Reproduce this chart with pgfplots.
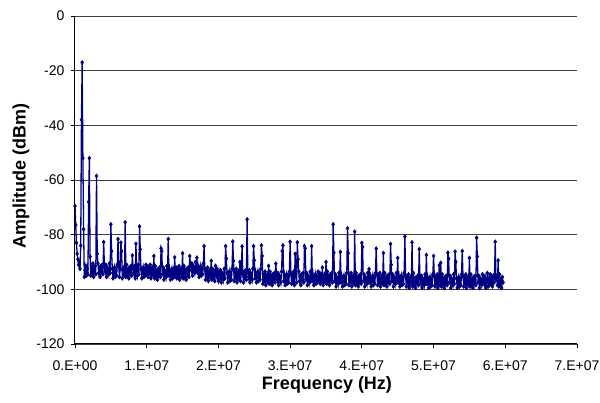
\documentclass[border=0pt]{standalone}
\usepackage{fontspec}
\setmainfont{Liberation Sans}
\usepackage{pgfplots}
\pgfplotsset{compat=1.18}
\definecolor{navyline}{RGB}{0,0,128}

\begin{document}
\begin{tikzpicture}
\begin{axis}[
  at={(0,0)}, anchor=south west,
  scale only axis,
  width=502pt, height=328pt,
  xmin=0, xmax=7e7, ymin=-120, ymax=0,
  axis x line*=bottom, axis y line*=left,
  axis line style={black, line width=1pt},
  xtick={0,1e7,2e7,3e7,4e7,5e7,6e7,7e7},
  xticklabels={0.E+00,1.E+07,2.E+07,3.E+07,4.E+07,5.E+07,6.E+07,7.E+07},
  ytick={-120,-100,-80,-60,-40,-20,0},
  yticklabels={-120,-100,-80,-60,-40,-20,0},
  scaled x ticks=false,
  /pgf/number format/assume math mode=true,
  tick align=outside, major tick length=4pt,
  tick style={black, line width=0.8pt},
  ymajorgrids, grid style={black!75, line width=0.9pt},
  ticklabel style={font=\fontsize{14}{16}\selectfont},
  xticklabel style={anchor=north, yshift=-9pt},
  yticklabel style={anchor=east, xshift=-3pt},
  xlabel={Frequency (Hz)},
  ylabel={Amplitude (dBm)},
  label style={font=\bfseries\fontsize{18}{20}\selectfont},
  xlabel style={at={(axis description cs:0.502,-0.1402)}, anchor=base},
  ylabel style={at={(axis description cs:-0.0986,0.5128)}, anchor=base},
]
\draw[black!45, line width=0.8pt] (rel axis cs:1,0) -- (rel axis cs:1,1);
% spectrum, one bin every 100 kHz
\addplot[color=navyline, line width=1.3pt, mark=diamond*, mark size=1.9pt,
  mark options={fill=navyline, line width=0.6pt}]
  table[header=false, row sep=\\, x expr=\coordindex*1e5, y index=0] {
-69.5\\ -76.5\\ -83\\ -87\\ -89\\ -91\\ -90\\ -92.5\\ -84\\ -38\\
-17\\ -52\\ -78\\ -95.5\\ -93\\ -91.5\\ -95\\ -92.5\\ -94.5\\ -68\\
-52\\ -88\\ -95\\ -92\\ -93.5\\ -90.5\\ -95.5\\ -92.5\\ -91.5\\ -94.5\\
-58.5\\ -87\\ -90.5\\ -94\\ -92.5\\ -95.5\\ -91.5\\ -93.5\\ -91\\ -94.5\\
-82.7\\ -91.5\\ -93.5\\ -91\\ -95.5\\ -92\\ -93\\ -94.5\\ -90.5\\ -94\\
-76.2\\ -86\\ -92.5\\ -96\\ -93.5\\ -92\\ -95.5\\ -93\\ -95\\ -91\\
-81.6\\ -91.5\\ -95.5\\ -92.5\\ -82.9\\ -86\\ -96\\ -93\\ -92\\ -95\\
-75.5\\ -95.5\\ -91\\ -94.5\\ -93\\ -96\\ -92\\ -94\\ -91.5\\ -95\\
-87.6\\ -92\\ -94\\ -91.5\\ -96\\ -83.3\\ -93.5\\ -95\\ -91\\ -94.5\\
-77\\ -85.4\\ -92.5\\ -96\\ -93.5\\ -92\\ -95.5\\ -93\\ -95\\ -91\\
-94.5\\ -91.5\\ -95.5\\ -92.5\\ -94\\ -91\\ -96\\ -93\\ -92\\ -95\\
-87.8\\ -96\\ -91.5\\ -95\\ -93.5\\ -96.5\\ -92.5\\ -94.5\\ -92\\ -95.5\\
-85\\ -86\\ -94.5\\ -92\\ -96.5\\ -93\\ -94\\ -95.5\\ -91.5\\ -95\\
-81.6\\ -95\\ -93\\ -96.5\\ -94\\ -92.5\\ -96\\ -93.5\\ -95.5\\ -88.3\\
-95\\ -92\\ -96\\ -93\\ -94.5\\ -91.5\\ -96.5\\ -93.5\\ -92.5\\ -95.5\\
-86.8\\ -96\\ -91.5\\ -95\\ -93.5\\ -96.5\\ -92.5\\ -94.5\\ -92\\ -95.5\\
-87.8\\ -91\\ -93\\ -90.5\\ -95\\ -91.5\\ -92.5\\ -94\\ -90\\ -93.5\\
-88.4\\ -94\\ -92\\ -95.5\\ -93\\ -91.5\\ -95\\ -92.5\\ -94.5\\ -90.5\\
-84.2\\ -92.5\\ -96.5\\ -93.5\\ -95\\ -92\\ -97\\ -94\\ -93\\ -96\\
-89.6\\ -96.5\\ -92.5\\ -95.5\\ -94\\ -97\\ -91.4\\ -95\\ -92.5\\ -96\\
-97\\ -93.5\\ -95.5\\ -93\\ -97.5\\ -94\\ -95\\ -96.5\\ -92.5\\ -96\\
-84.2\\ -88.7\\ -94\\ -97.5\\ -95\\ -93.5\\ -97\\ -94.5\\ -96.5\\ -92.5\\
-82.5\\ -89.6\\ -97\\ -94\\ -95.5\\ -92.5\\ -97.5\\ -94.5\\ -93.5\\ -96.5\\
-90\\ -97\\ -92.5\\ -84.3\\ -94.5\\ -97.5\\ -93.5\\ -95.5\\ -93\\ -96.5\\
-74.4\\ -93.5\\ -95.5\\ -93\\ -97.5\\ -94\\ -95\\ -96.5\\ -92.5\\ -84.2\\
-89.4\\ -96\\ -94\\ -97.5\\ -95\\ -93.5\\ -97\\ -94.5\\ -96.5\\ -92.5\\
-83.9\\ -87.8\\ -98\\ -95\\ -96.5\\ -93.5\\ -98.5\\ -95.5\\ -94.5\\ -97.5\\
-91.4\\ -98\\ -93.5\\ -97\\ -95.5\\ -98.5\\ -94.5\\ -96.5\\ -94\\ -97.5\\
-90.6\\ -94.5\\ -96.5\\ -94\\ -98.5\\ -95\\ -96\\ -97.5\\ -93.5\\ -86\\
-83.9\\ -97\\ -95\\ -98.5\\ -96\\ -94.5\\ -98\\ -95.5\\ -97.5\\ -93.5\\
-82.6\\ -94\\ -98\\ -95\\ -96.5\\ -93.5\\ -98.5\\ -87\\ -94.5\\ -97.5\\
-82.8\\ -89\\ -93.5\\ -97\\ -95.5\\ -98.5\\ -94.5\\ -96.5\\ -94\\ -97.5\\
-84.2\\ -85\\ -96.5\\ -94\\ -98.5\\ -95\\ -96\\ -97.5\\ -93.5\\ -97\\
-84.2\\ -97\\ -95\\ -98.5\\ -96\\ -94.5\\ -98\\ -95.5\\ -97.5\\ -93.5\\
-97\\ -94\\ -98\\ -95\\ -96.5\\ -92\\ -98.5\\ -95.5\\ -94.5\\ -97.5\\
-90\\ -98\\ -93.5\\ -97\\ -95.5\\ -98.5\\ -94.5\\ -96.5\\ -94\\ -97.5\\
-76.2\\ -86.6\\ -97\\ -94.5\\ -99\\ -95.5\\ -96.5\\ -98\\ -94\\ -97.5\\
-86.3\\ -97.5\\ -95.5\\ -99\\ -96.5\\ -95\\ -98.5\\ -96\\ -98\\ -94\\
-77.7\\ -86.8\\ -98.5\\ -95.5\\ -97\\ -94\\ -99\\ -96\\ -95\\ -98\\
-78.9\\ -98.5\\ -94\\ -97.5\\ -96\\ -99\\ -95\\ -97\\ -94.5\\ -98\\
-83\\ -84.5\\ -97\\ -94.5\\ -99\\ -95.5\\ -96.5\\ -98\\ -94\\ -97.5\\
-92.6\\ -97.5\\ -95.5\\ -99\\ -96.5\\ -95\\ -98.5\\ -96\\ -98\\ -94\\
-85.1\\ -94.5\\ -98.5\\ -95.5\\ -97\\ -94\\ -99\\ -96\\ -95\\ -98\\
-86.7\\ -98.5\\ -94\\ -97.5\\ -96\\ -99\\ -95\\ -97\\ -94.5\\ -98\\
-83.4\\ -91\\ -97\\ -94.5\\ -99\\ -95.5\\ -96.5\\ -98\\ -94\\ -97.5\\
-88.5\\ -97.5\\ -95.5\\ -99\\ -96.5\\ -95\\ -98.5\\ -96\\ -98\\ -94\\
-80.7\\ -95\\ -99\\ -96\\ -97.5\\ -94.5\\ -99.5\\ -96.5\\ -95.5\\ -98.5\\
-82.8\\ -99\\ -94\\ -98\\ -96.5\\ -99.5\\ -95.5\\ -97.5\\ -95\\ -98.5\\
-85.3\\ -95.5\\ -97.5\\ -95\\ -99.5\\ -96\\ -97\\ -98.5\\ -94.5\\ -98\\
-87.4\\ -98\\ -96\\ -99.5\\ -97\\ -95.5\\ -99\\ -96.5\\ -98.5\\ -94.5\\
-87.8\\ -95\\ -99\\ -96\\ -97.5\\ -94.5\\ -99.5\\ -96.5\\ -91.2\\ -98.5\\
-90.3\\ -99\\ -94.5\\ -98\\ -96.5\\ -99.5\\ -95.5\\ -97.5\\ -95\\ -98.5\\
-86.6\\ -88.8\\ -97.5\\ -95\\ -99.5\\ -96\\ -97\\ -98.5\\ -94.5\\ -98\\
-86.2\\ -90\\ -96\\ -99.5\\ -97\\ -95.5\\ -99\\ -96.5\\ -98.5\\ -94.5\\
-86\\ -95\\ -99\\ -96\\ -97.5\\ -94.5\\ -99.5\\ -96.5\\ -95.5\\ -98.5\\
-88.5\\ -99\\ -94.5\\ -98\\ -96.5\\ -99.5\\ -95.5\\ -97.5\\ -95\\ -98.5\\
-81.1\\ -88\\ -97.5\\ -95\\ -99.5\\ -96\\ -97\\ -98.5\\ -94.5\\ -98\\
-95\\ -98\\ -96\\ -99.5\\ -97\\ -94\\ -99\\ -96.5\\ -98.5\\ -94.5\\
-98\\ -95\\ -99\\ -96\\ -97.5\\ -94.5\\ -82.6\\ -96.5\\ -95.5\\ -98.5\\
-89.4\\ -99\\ -94.5\\ -98\\ -96.5\\ -99.5\\ -95.5\\ -97.5\\
};
\end{axis}
\pgfresetboundingbox
\useasboundingbox (-75pt,-59pt) rectangle (525pt,344pt);
\end{tikzpicture}
\end{document}
